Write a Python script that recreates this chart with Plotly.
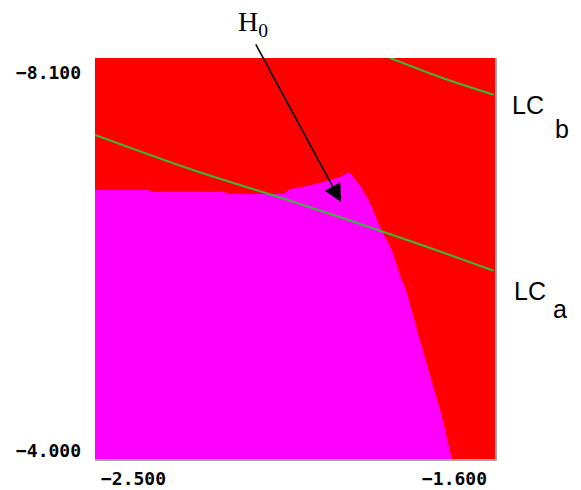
import plotly.graph_objects as go

# ---- data ----
X_RANGE = [-2.5, -1.6]
Y_RANGE = [-4.0, -8.1]   # bottom, top

# H0 (magenta) region boundary
region_x = [-2.5, -2.376, -2.376, -2.2075, -2.2075, -2.077, -2.061, -2.023, -1.987,
            -1.949, -1.9285, -1.904, -1.881, -1.859, -1.832, -1.814, -1.800, -1.769,
            -1.719, -1.697, -2.5]
region_y = [-6.750, -6.750, -6.730, -6.730, -6.709, -6.709, -6.761, -6.791, -6.832,
            -6.883, -6.934, -6.802, -6.618, -6.372, -6.137, -5.881, -5.728, -5.217,
            -4.430, -4.0, -4.0]

# limit cycle curves
lca_x = [-2.5, -2.2795, -2.0455, -1.791, -1.603]
lca_y = [-7.313, -6.955, -6.618, -6.229, -5.925]
lcb_x = [-1.836, -1.724, -1.603]
lcb_y = [-8.1, -7.906, -7.724]

# tick labels
x_ticks = [-2.5, -1.6]
x_tick_text = ["\u22122.500", "\u22121.600"]
y_ticks = [-8.1, -4.0]
y_tick_text = ["\u22128.100", "\u22124.000"]

# arrow target (H0 point)
h0_x, h0_y = -1.9465, -6.628

RED = "#ff0000"
MAGENTA = "#ff00ff"
GREEN = "#3ab83a"

fig = go.Figure()
fig.add_trace(go.Scatter(x=region_x, y=region_y, mode="lines", fill="toself",
                         fillcolor=MAGENTA, line=dict(width=0, color=MAGENTA),
                         hoverinfo="skip"))
fig.add_trace(go.Scatter(x=lca_x, y=lca_y, mode="lines",
                         line=dict(color=GREEN, width=2, shape="spline"),
                         hoverinfo="skip"))
fig.add_trace(go.Scatter(x=lcb_x, y=lcb_y, mode="lines",
                         line=dict(color=GREEN, width=2, shape="spline"),
                         hoverinfo="skip"))

tick_font = dict(family="DejaVu Sans Mono", size=18, color="black", weight="bold")
ann = []
# y tick labels
ann.append(dict(x=0, xref="paper", y=y_ticks[0], yref="y", text=y_tick_text[0],
                xanchor="right", yanchor="middle", xshift=-12, yshift=-14,
                showarrow=False, font=tick_font))
ann.append(dict(x=0, xref="paper", y=y_ticks[1], yref="y", text=y_tick_text[1],
                xanchor="right", yanchor="middle", xshift=-12, yshift=9,
                showarrow=False, font=tick_font))
# x tick labels
ann.append(dict(x=x_ticks[0], xref="x", y=0, yref="paper", text=x_tick_text[0],
                xanchor="left", yanchor="middle", xshift=4, yshift=-19,
                showarrow=False, font=tick_font))
ann.append(dict(x=x_ticks[1], xref="x", y=0, yref="paper", text=x_tick_text[1],
                xanchor="right", yanchor="middle", xshift=-6, yshift=-19,
                showarrow=False, font=tick_font))

lab_font = dict(family="Liberation Sans", size=25, color="black")
ann.append(dict(x=1.038, xref="paper", y=0.883, yref="paper", text="LC",
                xanchor="left", yanchor="middle", showarrow=False, font=lab_font))
ann.append(dict(x=1.145, xref="paper", y=0.822, yref="paper", text="b",
                xanchor="left", yanchor="middle", showarrow=False, font=lab_font))
ann.append(dict(x=1.043, xref="paper", y=0.418, yref="paper", text="LC",
                xanchor="left", yanchor="middle", showarrow=False, font=lab_font))
ann.append(dict(x=1.14, xref="paper", y=0.375, yref="paper", text="a",
                xanchor="left", yanchor="middle", showarrow=False, font=lab_font))

ann.append(dict(x=0.352, xref="paper", y=1.085, yref="paper", text="H<sub>0</sub>",
                xanchor="left", yanchor="middle", showarrow=False,
                font=dict(family="Liberation Serif", size=28, color="black")))
ann.append(dict(x=h0_x, xref="x", y=h0_y, yref="y", text="", showarrow=True,
                ax=-86, ay=-159, arrowhead=2, arrowsize=2.2, arrowwidth=1.6,
                arrowcolor="black"))

# the page body has an 8px default margin, so the figure is 8px smaller
fig.update_layout(
    width=573, height=482,
    margin=dict(l=87, r=86, t=50, b=31, pad=0),
    paper_bgcolor="white", plot_bgcolor=RED,
    showlegend=False,
    annotations=ann,
    xaxis=dict(range=X_RANGE, showgrid=False, zeroline=False, showticklabels=False,
               ticks="", showline=True, linecolor="#a8a8a8", linewidth=2),
    yaxis=dict(range=Y_RANGE, showgrid=False, zeroline=False, showticklabels=False,
               ticks="", side="right", showline=True, linecolor="#a8a8a8", linewidth=2),
)

fig.write_html("out.html")
